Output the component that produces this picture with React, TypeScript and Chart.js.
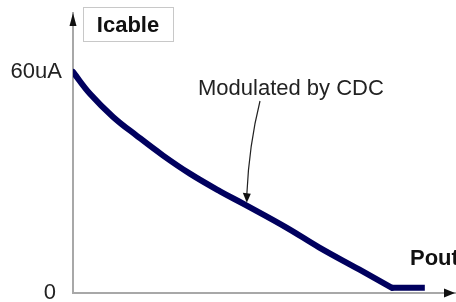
import React, { useEffect, useRef } from "react";
import { Chart, registerables } from "chart.js";

Chart.register(...registerables);

// Pout (arbitrary units, 0..100 across the axis) and Icable (uA)
const poutCurve = [0, 4.5, 10.5, 16.8, 23.6, 30.6, 38.5, 45.0, 56.0, 64.4, 74.9, 83.5];
const icableCurve = [60, 54.0, 47.8, 42.6, 37.3, 32.4, 27.6, 24.0, 17.7, 12.4, 6.4, 1.4];
const poutFlat = [83.5, 92.1];
const icableFlat = [1.4, 1.4];
const yTickValues = [0, 60];
const yTickLabels = ["0 ", "60uA"];
const yAxisTitle = "Icable";
const xAxisTitle = "Pout";
const annotationText = "Modulated by CDC";

const FONT = "'Liberation Sans', Arial, sans-serif";
const LINE = "#00005e";

const decorPlugin = {
  id: "decor",
  afterDraw(chart: any) {
    const { ctx, chartArea, scales } = chart;
    const x = scales.x;
    const y = scales.y;
    ctx.save();
    // y axis arrow
    const ax = chartArea.left;
    ctx.fillStyle = "#111";
    ctx.beginPath();
    ctx.moveTo(ax, chartArea.top);
    ctx.lineTo(ax - 3.5, chartArea.top + 13);
    ctx.lineTo(ax + 3.5, chartArea.top + 13);
    ctx.closePath();
    ctx.fill();
    // x axis arrow
    const ay = chartArea.bottom;
    ctx.beginPath();
    ctx.moveTo(chartArea.right, ay);
    ctx.lineTo(chartArea.right - 11, ay - 4.5);
    ctx.lineTo(chartArea.right - 11, ay + 4.5);
    ctx.closePath();
    ctx.fill();

    // Icable box
    ctx.strokeStyle = "#c8c8c8";
    ctx.lineWidth = 1;
    ctx.strokeRect(83.5, 7.5, 90, 34);
    ctx.fillStyle = "#111";
    ctx.font = `bold 22px ${FONT}`;
    ctx.textAlign = "center";
    ctx.textBaseline = "alphabetic";
    ctx.fillText(yAxisTitle, 128, 32);

    // Pout
    ctx.textAlign = "left";
    ctx.fillText(xAxisTitle, 410, 265);

    // annotation
    ctx.font = `22px ${FONT}`;
    ctx.fillStyle = "#222";
    ctx.fillText(annotationText, 198, 95);

    // annotation arrow to the curve
    const tipX = x.getPixelForValue(45.5);
    const tipY = y.getPixelForValue(24.5);
    ctx.strokeStyle = "#222";
    ctx.lineWidth = 1.2;
    ctx.beginPath();
    ctx.moveTo(260, 101);
    ctx.quadraticCurveTo(249, 145, tipX, tipY - 8);
    ctx.stroke();
    ctx.fillStyle = "#111";
    ctx.beginPath();
    ctx.moveTo(tipX, tipY);
    ctx.lineTo(tipX - 4, tipY - 10);
    ctx.lineTo(tipX + 4, tipY - 9);
    ctx.closePath();
    ctx.fill();
    ctx.restore();
  },
};

export default function App() {
  const ref = useRef<HTMLCanvasElement>(null);
  useEffect(() => {
    const chart = new Chart(ref.current!, {
      type: "line",
      data: {
        datasets: [
          {
            data: poutCurve.map((v, i) => ({ x: v, y: icableCurve[i] })),
            borderColor: LINE,
            borderWidth: 6,
            tension: 0.4,
            pointRadius: 0,
            borderCapStyle: "round",
            borderJoinStyle: "round",
          },
          {
            data: poutFlat.map((v, i) => ({ x: v, y: icableFlat[i] })),
            borderColor: LINE,
            borderWidth: 6,
            tension: 0,
            pointRadius: 0,
            borderCapStyle: "butt",
          },
        ],
      },
      options: {
        animation: false,
        responsive: false,
        maintainAspectRatio: false,
        layout: { padding: { left: 0, top: 13, right: 1, bottom: 9 } },
        plugins: { legend: { display: false }, tooltip: { enabled: false } },
        scales: {
          x: {
            type: "linear",
            min: 0,
            max: 100,
            grid: { display: false, drawTicks: false },
            ticks: { display: false },
            border: { display: true, color: "#a8a8a8", width: 2 },
            afterFit: (s: any) => {
              s.height = 0;
              s.paddingLeft = 0;
              s.paddingRight = 0;
            },
          },
          y: {
            type: "linear",
            min: 0,
            max: 76,
            grid: { display: false, drawTicks: false },
            border: { display: true, color: "#a8a8a8", width: 2 },
            afterBuildTicks: (s: any) => {
              s.ticks = yTickValues.map((v) => ({ value: v }));
            },
            ticks: {
              padding: 11,
              color: "#222",
              font: { family: FONT, size: 22 },
              callback: (v: any) => yTickLabels[yTickValues.indexOf(Number(v))] ?? "",
            },
            afterFit: (s: any) => {
              s.width = 73;
              s.paddingTop = 0;
              s.paddingBottom = 0;
            },
          },
        },
      },
      plugins: [decorPlugin],
    });
    return () => chart.destroy();
  }, []);
  return (
    <div style={{ position: "absolute", left: 0, top: 0, width: 456, height: 302, background: "#fff" }}>
      <canvas ref={ref} width={456} height={302} />
    </div>
  );
}
